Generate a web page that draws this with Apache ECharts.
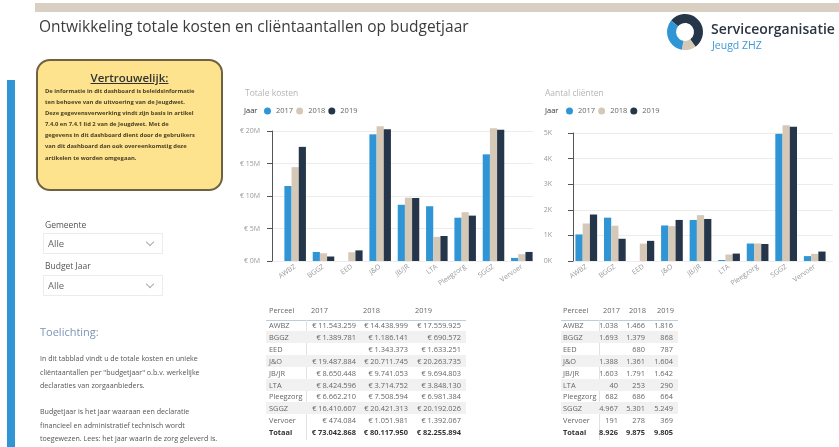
<!DOCTYPE html>
<html>
<head>
<meta charset="utf-8">
<script src="https://cdn.jsdelivr.net/npm/echarts@6/dist/echarts.min.js"></script>
<style>
  html, body { margin: 0; padding: 0; background: #fff; }
  body { width: 839px; height: 447px; overflow: hidden; position: relative; font-family: 'Open Sans', sans-serif; }
  #chart { position: absolute; left: 0; top: 0; width: 839px; height: 447px; }
  .abs { position: absolute; white-space: nowrap; }
  .topbar { left: 35px; top: 3px; width: 804px; height: 9px; background: #d9cfc2; }
  .title { left: 39px; top: 15px; font-size: 15.5px; color: #3c3c3c; }
  .logo1 { left: 711px; top: 19px; font-size: 14px; font-weight: 600; color: #2a3442; }
  .logo2 { left: 712px; top: 38px; font-size: 10.5px; color: #3a9ad9; }
  .sidebar { left: 7px; top: 80px; width: 8px; height: 367px; background: #2f95d5; }
  .note { left: 36px; top: 59px; width: 183px; height: 128px; border: 2px solid #6e6243; border-radius: 14px; background: #fde38d; }
  .note-h { left: 36px; top: 70px; width: 187px; text-align: center; font-size: 11.5px; font-weight: 600; text-decoration: underline; color: #333; }
  .note-t { left: 45px; top: 86px; font-size: 5.85px; font-weight: 700; line-height: 11.1px; color: #4a4226; white-space: pre; }
  .lbl { font-size: 8.5px; color: #555; }
  .dd { width: 118px; height: 19px; border: 1px solid #ececec; background: #fff; }
  .dd span { position: absolute; left: 4px; top: 3px; font-size: 9.5px; color: #666; }
  .dd i { position: absolute; right: 9px; top: 5px; width: 5px; height: 5px; border-right: 1px solid #aaa; border-bottom: 1px solid #aaa; transform: rotate(45deg); }
  .toel { left: 40px; top: 324px; font-size: 11px; color: #7b95b5; }
  .para { left: 40px; font-size: 7.1px; line-height: 13.5px; color: #555; white-space: pre; }
  .cell { position: absolute; font-size: 7.4px; color: #666; white-space: nowrap; line-height: 12px; }
  .num { text-align: right; }
  .tot { font-weight: 700; color: #333; }
</style>
</head>
<body>
<div id="chart"></div>
<div id="page"></div>
<script>
const categories = ['AWBZ', 'BGGZ', 'EED', 'J&O', 'JB/JR', 'LTA', 'Pleegzorg', 'SGGZ', 'Vervoer'];
const years = ['2017', '2018', '2019'];
const kosten2017 = [11543259, 1389781, null, 19487884, 8650448, 8424596, 6662210, 16410607, 474084];
const kosten2018 = [14438999, 1186141, 1343373, 20711745, 9741053, 3714752, 7508594, 20421313, 1051981];
const kosten2019 = [17559925, 690572, 1633251, 20263735, 9694803, 3848130, 6981384, 20192026, 1392067];
const kostenTotaal = [73042868, 80117950, 82255894];
const clienten2017 = [1038, 1693, null, 1388, 1603, 40, 682, 4967, 191];
const clienten2018 = [1466, 1379, 680, 1361, 1791, 253, 686, 5301, 278];
const clienten2019 = [1816, 868, 787, 1604, 1642, 290, 664, 5249, 369];
const clientenTotaal = [8926, 9875, 9805];
const kostenTicks = [0, 5000000, 10000000, 15000000, 20000000];
const clientenTicks = [0, 1000, 2000, 3000, 4000, 5000];

const colors = ['#2f95d5', '#d5c8b6', '#26364a'];

const fmtNum = v => String(v).replace(/\B(?=(\d{3})+(?!\d))/g, '.');

// static parts of the page
const page = document.getElementById('page');
function add(cls, style, html) {
  const d = document.createElement('div');
  d.className = 'abs ' + cls;
  if (style) d.style.cssText = style;
  if (html != null) d.innerHTML = html;
  page.appendChild(d);
  return d;
}
add('topbar');
add('title', '', 'Ontwikkeling totale kosten en cliëntaantallen op budgetjaar');
add('logo1', '', 'Serviceorganisatie');
add('logo2', '', 'Jeugd ZHZ');
add('sidebar');
add('note');
add('note-h', '', 'Vertrouwelijk:');
add('note-t', '', [
  'De informatie in dit dashboard is beleidsinformatie',
  'ten behoeve van de uitvoering van de Jeugdwet.',
  'Deze gegevensverwerking vindt zijn basis in artikel',
  '7.4.0 en 7.4.1 lid 2 van de Jeugdwet. Met de',
  'gegevens in dit dashboard dient door de gebruikers',
  'van dit dashboard dan ook overeenkomstig deze',
  'artikelen te worden omgegaan.'
].join('\n'));
add('lbl', 'left:45px;top:219px;', 'Gemeente');
add('dd', 'left:43px;top:233px;', '<span>Alle</span><i></i>');
add('lbl', 'left:45px;top:260px;', 'Budget Jaar');
add('dd', 'left:43px;top:275px;', '<span>Alle</span><i></i>');
add('toel', '', 'Toelichting:');
add('para', 'top:352px;', 'In dit tabblad vindt u de totale kosten en unieke\ncliëntaantallen per "budgetjaar" o.b.v. werkelijke\ndeclaraties van zorgaanbieders.');
add('para', 'top:405px;', 'Budgetjaar is het jaar waaraan een declaratie\nfinancieel en administratief technisch wordt\ntoegewezen. Lees: het jaar waarin de zorg geleverd is.');

// tables
function table(cfg) {
  const rowY = i => 319 + i * 11.9;
  add('', `left:${cfg.x0}px;top:320px;width:${cfg.x1 - cfg.x0}px;height:1px;background:#b9cfe0;`);
  add('', `left:${cfg.sep}px;top:320px;width:1px;height:120px;background:#e2e2e2;`);
  const c = document.createElement('div');
  c.className = 'cell';
  c.style.cssText = `left:${cfg.name}px;top:304px;`;
  c.textContent = 'Perceel';
  page.appendChild(c);
  years.forEach((y, j) => {
    const h = document.createElement('div');
    h.className = 'cell';
    h.style.cssText = `left:${cfg.head[j]}px;top:304px;`;
    h.textContent = y;
    page.appendChild(h);
  });
  const rows = categories.map((cat, i) => [cat, cfg.data[0][i], cfg.data[1][i], cfg.data[2][i]]);
  rows.push(['Totaal'].concat(cfg.total));
  rows.forEach((r, i) => {
    if (i % 2 === 1 && i < categories.length) {
      add('', `left:${cfg.x0}px;top:${rowY(i)}px;width:${cfg.x1 - cfg.x0}px;height:12px;background:#f1f1f1;`);
    }
    const tot = i === categories.length ? ' tot' : '';
    const n = document.createElement('div');
    n.className = 'cell' + tot;
    n.style.cssText = `left:${cfg.name}px;top:${rowY(i)}px;`;
    n.textContent = r[0];
    page.appendChild(n);
    for (let j = 0; j < 3; j++) {
      if (r[j + 1] == null) continue;
      const v = document.createElement('div');
      v.className = 'cell num' + tot;
      v.style.cssText = `right:${839 - cfg.right[j]}px;top:${rowY(i)}px;`;
      v.textContent = cfg.prefix + fmtNum(r[j + 1]);
      page.appendChild(v);
    }
  });
}
table({ x0: 266, x1: 466, sep: 306, name: 269, head: [311, 363, 415], right: [356, 408, 461],
  data: [kosten2017, kosten2018, kosten2019], total: kostenTotaal, prefix: '€ ' });
table({ x0: 561, x1: 678, sep: 599, name: 563, head: [603, 629, 657], right: [618, 645, 673],
  data: [clienten2017, clienten2018, clienten2019], total: clientenTotaal, prefix: '' });

// charts
const chart = echarts.init(document.getElementById('chart'));

function barSeries(data, axis) {
  return data.map((d, k) => ({
    name: years[k],
    type: 'bar',
    xAxisIndex: axis,
    yAxisIndex: axis,
    data: d,
    clip: false,
    barGap: '0%',
    barCategoryGap: '24%',
    itemStyle: { color: colors[k] },
    animation: false
  }));
}

const labelStyle = { color: '#9a9a9a', fontSize: 7, fontFamily: 'Open Sans' };

function legend(left) {
  return {
    data: years, left: left, top: 102, padding: 5, icon: 'circle',
    itemWidth: 7, itemHeight: 7, itemGap: 3,
    textStyle: { color: '#666', fontSize: 7.5, fontFamily: 'Open Sans' }
  };
}

chart.setOption({
  title: [
    { text: 'Totale kosten', left: 240, top: 84, textStyle: { color: '#b5b5b5', fontSize: 8.5, fontWeight: 'normal', fontFamily: 'Open Sans' } },
    { text: 'Aantal cliënten', left: 540, top: 84, textStyle: { color: '#b5b5b5', fontSize: 8.5, fontWeight: 'normal', fontFamily: 'Open Sans' } }
  ],
  legend: [legend(259), legend(561)],
  grid: [
    { left: 281, top: 131, width: 255, height: 130 },
    { left: 272, top: 131, width: 261, height: 130 },
    { left: 572, top: 133, width: 257, height: 128 },
    { left: 573, top: 133, width: 260, height: 128 }
  ],
  xAxis: [
    { type: 'category', gridIndex: 0, data: categories, axisLine: { show: false }, axisTick: { show: false },
      axisLabel: Object.assign({ rotate: 35, margin: 5, interval: 0 }, labelStyle) },
    { type: 'value', gridIndex: 1, show: false },
    { type: 'category', gridIndex: 2, data: categories, axisLine: { show: false }, axisTick: { show: false },
      axisLabel: Object.assign({ rotate: 35, margin: 5, interval: 0 }, labelStyle) },
    { type: 'value', gridIndex: 3, show: false }
  ],
  yAxis: [
    { type: 'value', gridIndex: 0, min: kostenTicks[0], max: kostenTicks[kostenTicks.length - 1], interval: 5000000,
      splitLine: { show: false },
      axisLabel: Object.assign({ margin: 21, formatter: v => '€ ' + v / 1000000 + 'M' }, labelStyle) },
    { type: 'value', gridIndex: 1, min: kostenTicks[0], max: kostenTicks[kostenTicks.length - 1], interval: 5000000,
      axisLabel: { show: false }, splitLine: { lineStyle: { color: '#ececec' } } },
    { type: 'value', gridIndex: 2, min: clientenTicks[0], max: clientenTicks[clientenTicks.length - 1], interval: 1000,
      splitLine: { show: false },
      axisLabel: Object.assign({ margin: 20, formatter: v => v / 1000 + 'K' }, labelStyle) },
    { type: 'value', gridIndex: 3, min: clientenTicks[0], max: clientenTicks[clientenTicks.length - 1], interval: 1000,
      axisLabel: { show: false }, splitLine: { lineStyle: { color: '#ececec' } } }
  ],
  graphic: [
    { type: 'text', left: 244, top: 107, style: { text: 'Jaar', fill: '#333', fontSize: 7.5, fontFamily: 'Open Sans' } },
    { type: 'text', left: 545, top: 107, style: { text: 'Jaar', fill: '#333', fontSize: 7.5, fontFamily: 'Open Sans' } },
    { type: 'sector', shape: { cx: 685, cy: 32, r: 18, r0: 9, startAngle: -2.45, endAngle: 0.95 }, style: { fill: '#26364a' } },
    { type: 'sector', shape: { cx: 685, cy: 32, r: 18, r0: 9, startAngle: 0.95, endAngle: 1.75 }, style: { fill: '#d5c8b6' } },
    { type: 'sector', shape: { cx: 685, cy: 32, r: 18, r0: 9, startAngle: 1.75, endAngle: 3.83 }, style: { fill: '#2f95d5' } }
  ],
  series: barSeries([kosten2017, kosten2018, kosten2019], 0)
    .concat(barSeries([clienten2017, clienten2018, clienten2019], 2))
});
</script>
</body>
</html>
